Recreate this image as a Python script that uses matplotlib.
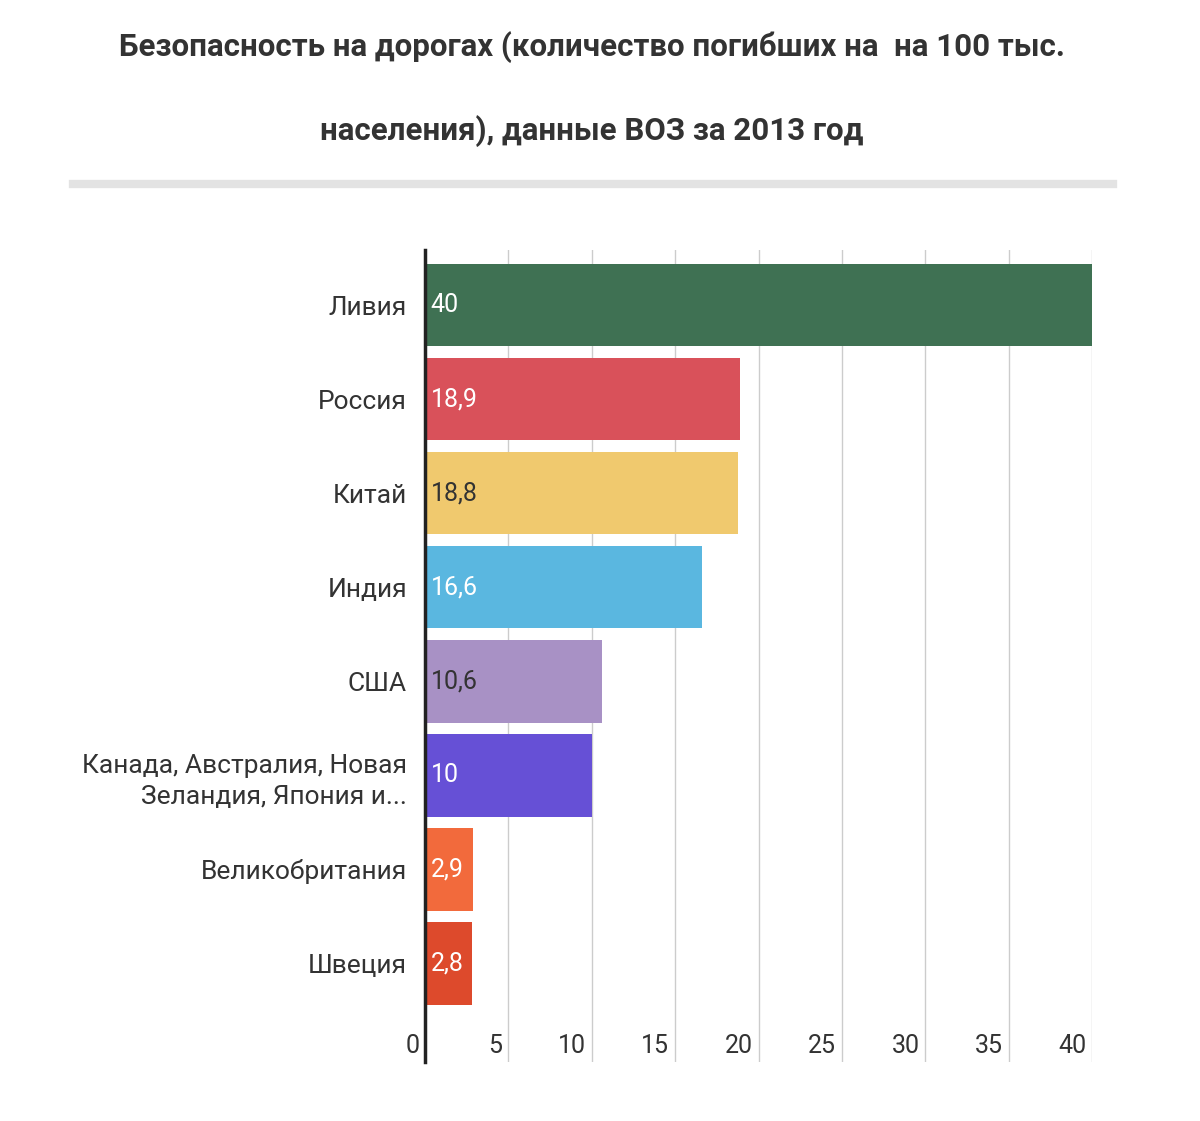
import matplotlib.pyplot as plt

plt.rcParams['font.family'] = ['Roboto', 'DejaVu Sans']

countries = ['Ливия', 'Россия', 'Китай', 'Индия', 'США',
             'Канада, Австралия, Новая\nЗеландия, Япония и...',
             'Великобритания', 'Швеция']
values = [40, 18.9, 18.8, 16.6, 10.6, 10, 2.9, 2.8]
labels = ['40', '18,9', '18,8', '16,6', '10,6', '10', '2,9', '2,8']
colors = ['#3f7153', '#d9515a', '#f0c96e', '#5ab7e0', '#a891c5',
          '#6650d6', '#f26a3c', '#dd4a2c']
label_colors = ['white', 'white', '#333333', 'white', '#333333',
                'white', 'white', 'white']
xticks = [0, 5, 10, 15, 20, 25, 30, 35, 40]

fig = plt.figure(figsize=(12, 11.21), dpi=100)
fig.text(0.493, 1 - 47 / 1121, 'Безопасность на дорогах (количество погибших на  на 100 тыс.',
         ha='center', va='center', fontsize=22.5, fontweight='bold', color='#333333')
fig.text(0.493, 1 - 131 / 1121, 'населения), данные ВОЗ за 2013 год',
         ha='center', va='center', fontsize=22.5, fontweight='bold', color='#333333')
fig.add_artist(plt.Line2D([73 / 1200, 1113 / 1200], [1 - 184 / 1121] * 2,
                          color='#e3e3e3', lw=6))

ax = fig.add_axes([425 / 1200, 1 - 1062 / 1121, 667 / 1200, 812 / 1121])
pos = list(range(len(countries)))
ax.barh(pos, values, height=0.88, color=colors, zorder=2)
for p, lab, c in zip(pos, labels, label_colors):
    ax.text(0.35, p, lab, ha='left', va='center', fontsize=18, color=c, zorder=3)
ax.set_xlim(0, 40)
ax.set_ylim(8.05, -0.585)
ax.set_yticks(pos)
ax.set_yticklabels(countries, fontsize=19, color='#333333', linespacing=1.4)
ax.tick_params(axis='y', length=0, pad=13)
ax.set_xticks(xticks)
ax.set_xticklabels([])
ax.tick_params(axis='x', length=0)
for t in xticks:
    ax.text(t - 0.35, 7.88, str(t), ha='right', va='center', fontsize=18, color='#333333')
for t in xticks[1:]:
    ax.axvline(t, color='#cccccc', lw=1, zorder=1)
for s in ['top', 'right', 'bottom']:
    ax.spines[s].set_visible(False)
ax.spines['left'].set_color('#222222')
ax.spines['left'].set_linewidth(2.5)

fig.savefig('out.png', dpi=100)
